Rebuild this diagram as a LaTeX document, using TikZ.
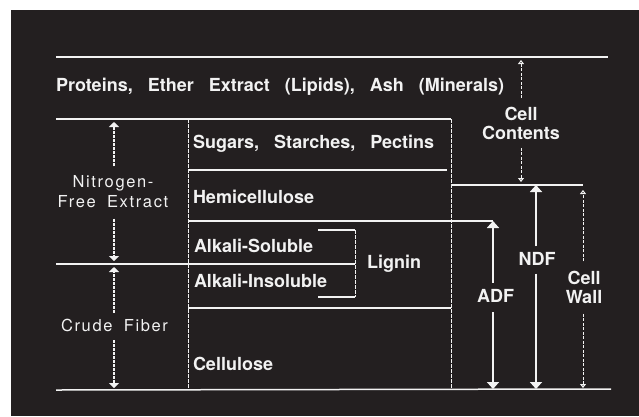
\documentclass[tikz,border=0pt]{standalone}
\usepackage{fontspec}
\usetikzlibrary{arrows.meta}
\newfontfamily\hfont[WordSpace=3]{TeX Gyre Heros}
\newfontfamily\lfont[LetterSpace=10,WordSpace=1.8]{TeX Gyre Heros}
\definecolor{bg}{RGB}{35,31,32}
\definecolor{fg}{RGB}{242,242,242}
\begin{document}
\begin{tikzpicture}[x=1pt,y=-1pt,
  every node/.style={text=fg, inner sep=0pt, outer sep=0pt},
  lab/.style={font=\hfont\bfseries\fontsize{18}{19}\selectfont, anchor=base west},
  clab/.style={font=\hfont\bfseries\fontsize{18}{19}\selectfont, align=center},
  llab/.style={font=\lfont\fontsize{16.5}{20}\selectfont, align=center},
  hl/.style={draw=fg, line width=1.5pt},
  vl/.style={draw=fg, line width=1pt, dash pattern=on 4pt off 1pt},
  tarrow/.style={draw=fg, line width=1.2pt, dash pattern=on 3pt off 1pt, -{Triangle[width=10pt,length=5pt]}},
  sarrow/.style={draw=fg, line width=1pt, dash pattern=on 3pt off 1.5pt, -{Triangle[width=6pt,length=4pt,open]}},
  karrow/.style={draw=fg, line width=2.6pt, -{Triangle[width=12pt,length=7pt]}}
]
\useasboundingbox (0,0) rectangle (639,416);
\fill[white] (0,0) rectangle (639,416);
\fill[bg] (11,10) rectangle (639,416);

% structure lines
\draw[hl] (56,57) -- (608,57);
\draw[hl] (56,119) -- (451,119);
\draw[vl] (451,119) -- (451,390);
\draw[vl] (188,119) -- (188,390);
\draw[hl] (188,170) -- (447,170);
\draw[hl] (451,185) -- (583,185);
\draw[hl] (188,221) -- (493,221);
\draw[hl] (56,264) -- (355,264);
\draw[hl] (318,230) -- (355,230);
\draw[vl] (355,230) -- (355,297);
\draw[hl] (318,297) -- (355,297);
\draw[hl] (188,308) -- (451,308);
\draw[hl] (56,390) -- (611,389);

% texts
\node[lab] (prot) at (56,91) {Proteins, Ether Extract (Lipids), Ash (Minerals)};
\node[lab] (sug) at (193,148) {Sugars, Starches, Pectins};
\node[lab] (hemi) at (193,203) {Hemicellulose};
\node[lab] (als) at (194,252) {Alkali-Soluble};
\node[lab] (ali) at (194,287) {Alkali-Insoluble};
\node[lab] (lig) at (367,268) {Lignin};
\node[lab] (cel) at (193,370) {Cellulose};
\node[clab] (cc) at (521,123.5) {Cell\\Contents};
\node[clab] (adf) at (495.5,295.5) {ADF};
\node[clab] (ndf) at (537,259) {NDF};
\node[clab] (cw) at (584,287.5) {Cell\\Wall};
\node[llab] (nfe) at (113,191.5) {Nitrogen-\\Free Extract};
\node[llab, anchor=base] (cf) at (114.5,331) {Crude Fiber};

% arrow end points
\coordinate (nfetop) at (114,122);
\coordinate (nfebot) at (114,261);
\coordinate (cftop) at (114,267);
\coordinate (cfbot) at (114,388);
\coordinate (cctop) at (521,60);
\coordinate (ccbot) at (521,182);
\coordinate (adftop) at (493,221);
\coordinate (adfbot) at (493,389);
\coordinate (ndftop) at (536,185);
\coordinate (ndfbot) at (536,389);
\coordinate (cwtop) at (583,190);
\coordinate (cwbot) at (583,388);

% arrows
\draw[tarrow, shorten <=9pt] (nfe.north -| nfetop) -- (nfetop);
\draw[tarrow, shorten <=11pt] (nfe.south -| nfebot) -- (nfebot);
\draw[tarrow, shorten <=6pt] (cf.north -| cftop) -- (cftop);
\draw[tarrow, shorten <=9pt] (cf.south -| cfbot) -- (cfbot);
\draw[sarrow, shorten <=9pt] (cc.north -| cctop) -- (cctop);
\draw[sarrow, shorten <=8pt] (cc.south -| ccbot) -- (ccbot);
\draw[karrow, shorten <=6pt] (adf.north -| adftop) -- (adftop);
\draw[karrow, shorten <=10pt] (adf.south -| adfbot) -- (adfbot);
\draw[karrow, shorten <=6pt] (ndf.north -| ndftop) -- (ndftop);
\draw[karrow, shorten <=8pt] (ndf.south -| ndfbot) -- (ndfbot);
\draw[sarrow, shorten <=10pt] (cw.north -| cwtop) -- (cwtop);
\draw[sarrow, shorten <=10pt] (cw.south -| cwbot) -- (cwbot);
\end{tikzpicture}
\end{document}
